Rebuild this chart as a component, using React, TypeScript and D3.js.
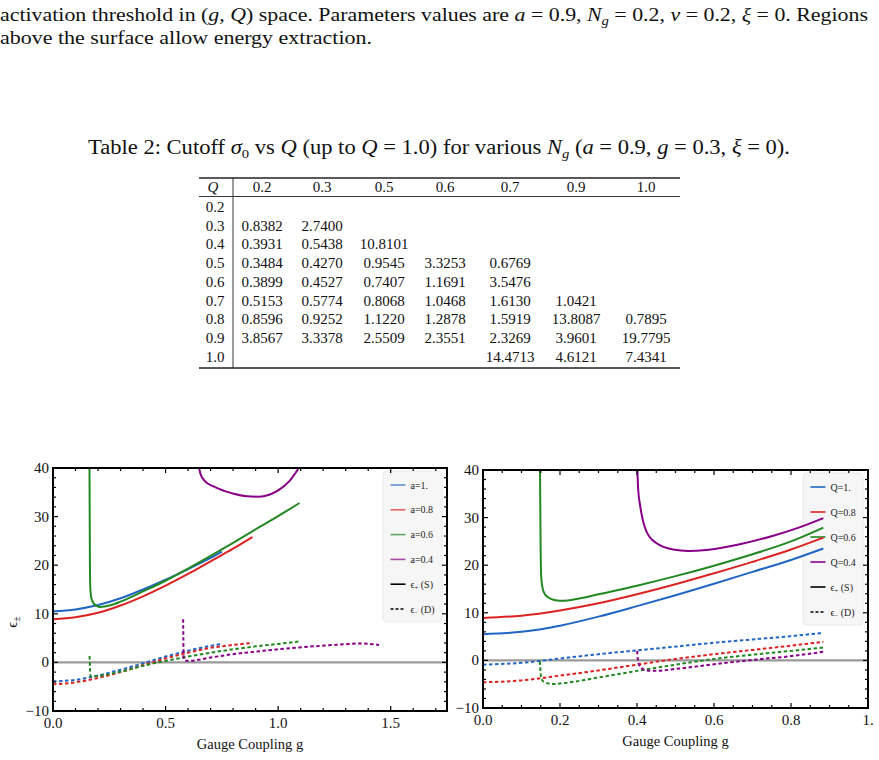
// Paper excerpt: paragraph, cutoff table and two epsilon-vs-g panels, drawn with D3 scales
import * as d3 from 'd3';

type Pt = [number, number];

// ---- table data ----
const tableCols = ['0.2', '0.3', '0.5', '0.6', '0.7', '0.9', '1.0'];
const tableRows = ['0.2', '0.3', '0.4', '0.5', '0.6', '0.7', '0.8', '0.9', '1.0'];
const tableCells: string[][] = [
  ['', '', '', '', '', '', ''],
  ['0.8382', '2.7400', '', '', '', '', ''],
  ['0.3931', '0.5438', '10.8101', '', '', '', ''],
  ['0.3484', '0.4270', '0.9545', '3.3253', '0.6769', '', ''],
  ['0.3899', '0.4527', '0.7407', '1.1691', '3.5476', '', ''],
  ['0.5153', '0.5774', '0.8068', '1.0468', '1.6130', '1.0421', ''],
  ['0.8596', '0.9252', '1.1220', '1.2878', '1.5919', '13.8087', '0.7895'],
  ['3.8567', '3.3378', '2.5509', '2.3551', '2.3269', '3.9601', '19.7795'],
  ['', '', '', '', '14.4713', '4.6121', '7.4341'],
];

// ---- left panel (vary a) : eps+ solid, eps- dashed ----
const leftPlusA10: Pt[] = [[0, 10.5], [0.1, 10.9], [0.2, 11.8], [0.3, 13.2], [0.4, 15.0], [0.5, 17.0], [0.6, 19.2], [0.7, 21.5], [0.75, 22.8]];
const leftPlusA08: Pt[] = [[0, 8.9], [0.1, 9.3], [0.2, 10.2], [0.3, 11.7], [0.4, 13.6], [0.5, 15.8], [0.6, 18.2], [0.7, 20.8], [0.8, 23.4], [0.886, 25.8]];
const leftPlusA06: Pt[] = [[0.162, 41], [0.164, 20], [0.166, 15], [0.17, 13.3], [0.18, 12.2], [0.19, 11.7], [0.2, 11.5], [0.21, 11.4], [0.23, 11.5], [0.26, 11.8], [0.3, 12.5], [0.4, 14.6], [0.5, 16.8], [0.6, 19.3], [0.7, 21.9], [0.8, 24.6], [0.9, 27.4], [1.0, 30.1], [1.095, 32.8]];
const leftPlusA04: Pt[] = [[0.645, 41], [0.655, 38.8], [0.675, 37.3], [0.713, 36.2], [0.76, 35.3], [0.802, 34.7], [0.86, 34.2], [0.914, 34.1], [0.96, 34.5], [1.0, 35.4], [1.05, 37.3], [1.1, 40.6]];

const leftMinusA10: Pt[] = [[0, -3.9], [0.1, -3.6], [0.2, -2.7], [0.3, -1.5], [0.4, -0.2], [0.5, 1.2], [0.6, 2.4], [0.7, 3.4], [0.75, 3.8]];
const leftMinusA08: Pt[] = [[0, -4.5], [0.1, -4.1], [0.2, -3.2], [0.3, -2.0], [0.4, -0.6], [0.5, 0.8], [0.6, 2.0], [0.7, 3.0], [0.8, 3.6], [0.886, 4.0]];
const leftMinusA06: Pt[] = [[0.1625, 1.3], [0.164, -1.0], [0.167, -2.9], [0.2, -2.8], [0.3, -1.9], [0.4, -0.7], [0.5, 0.3], [0.6, 1.2], [0.7, 2.0], [0.8, 2.7], [0.9, 3.3], [1.0, 3.8], [1.09, 4.3]];
const leftMinusA04: Pt[] = [[0.578, 8.9], [0.579, 5], [0.58, 1.2], [0.585, 0.4], [0.6, 0.3], [0.7, 1.0], [0.8, 1.7], [0.9, 2.2], [1.0, 2.7], [1.1, 3.1], [1.2, 3.45], [1.3, 3.75], [1.37, 3.9], [1.448, 3.6]];

// ---- right panel (vary Q) ----
const rightPlusQ10: Pt[] = [[0, 5.5], [0.1, 6.0], [0.2, 7.3], [0.3, 9.2], [0.4, 11.4], [0.5, 13.7], [0.6, 16.1], [0.7, 18.6], [0.8, 21.1], [0.884, 23.5]];
const rightPlusQ08: Pt[] = [[0, 8.9], [0.1, 9.4], [0.2, 10.5], [0.3, 12.0], [0.4, 13.9], [0.5, 16.0], [0.6, 18.3], [0.7, 20.7], [0.8, 23.3], [0.884, 25.8]];
const rightPlusQ06: Pt[] = [[0.148, 41], [0.1495, 25], [0.151, 18], [0.154, 15.5], [0.16, 14], [0.17, 13.2], [0.185, 12.7], [0.2, 12.55], [0.22, 12.6], [0.25, 13.0], [0.3, 13.9], [0.4, 15.7], [0.5, 17.7], [0.6, 19.9], [0.7, 22.3], [0.8, 25.0], [0.884, 27.9]];
const rightPlusQ04: Pt[] = [[0.4005, 41], [0.403, 36], [0.408, 32.6], [0.415, 29.5], [0.425, 27.0], [0.451, 24.6], [0.494, 23.3], [0.533, 23.0], [0.58, 23.2], [0.667, 24.4], [0.754, 26.2], [0.82, 27.9], [0.884, 29.9]];

const rightMinusQ10: Pt[] = [[0, -0.9], [0.1, -0.5], [0.2, 0.4], [0.3, 1.3], [0.4, 2.1], [0.5, 2.9], [0.6, 3.7], [0.7, 4.4], [0.8, 5.1], [0.884, 5.8]];
const rightMinusQ08: Pt[] = [[0, -4.6], [0.1, -4.2], [0.2, -3.2], [0.3, -2.1], [0.4, -0.9], [0.5, 0.3], [0.6, 1.3], [0.7, 2.2], [0.8, 3.1], [0.884, 3.9]];
const rightMinusQ06: Pt[] = [[0.148, -0.2], [0.1495, -2.5], [0.152, -3.9], [0.16, -4.6], [0.183, -4.95], [0.2, -4.85], [0.3, -3.6], [0.4, -2.2], [0.5, -0.9], [0.6, 0.3], [0.7, 1.2], [0.8, 2.0], [0.884, 2.7]];
const rightMinusQ04: Pt[] = [[0.4005, 2.0], [0.402, 0.3], [0.405, -0.8], [0.412, -1.6], [0.425, -2.1], [0.45, -2.2], [0.5, -1.8], [0.6, -0.8], [0.7, 0.1], [0.8, 0.9], [0.884, 1.8]];

const leftLegend = ['a=1.', 'a=0.8', 'a=0.6', 'a=0.4'];
const rightLegend = ['Q=1.', 'Q=0.8', 'Q=0.6', 'Q=0.4'];
const yTicks = [-10, 0, 10, 20, 30, 40];
const leftXTicks = [0, 0.5, 1.0, 1.5];
const leftXLabels = ['0.0', '0.5', '1.0', '1.5'];
const rightXTicks = [0, 0.2, 0.4, 0.6, 0.8, 1.0];
const rightXLabels = ['0.0', '0.2', '0.4', '0.6', '0.8', '1.'];

const COLORS = ['#2166c4', '#dd2222', '#228822', '#880088'];
const SERIF = '"Liberation Serif", "Times New Roman", serif';

interface Box { x0: number; x1: number; y0: number; y1: number }

interface PanelProps {
  id: string;
  box: Box;
  xMax: number;
  xTicks: number[];
  xLabels: string[];
  xMinor: number;
  plus: Pt[][];
  minus: Pt[][];
  legend: string[];
  legendBox: Box;
  legendFade: number;
  yLabel?: boolean;
}

const Panel = ({ id, box, xMax, xTicks, xLabels, xMinor, plus, minus, legend, legendBox, legendFade, yLabel }: PanelProps) => {
  const x = d3.scaleLinear().domain([0, xMax]).range([box.x0, box.x1]);
  const y = d3.scaleLinear().domain([-10, 40]).range([box.y1, box.y0]);
  const line = d3.line<Pt>().x(d => x(d[0])).y(d => y(d[1])).curve(d3.curveMonotoneX);
  const xMinorTicks = d3.range(0, xMax + 1e-9, xMinor);
  const yMinorTicks = d3.range(-10, 40.001, 2);
  const legendStep = (legendBox.y1 - legendBox.y0 - 27) / 5;
  const legendRows = [...legend, 'S', 'D'];

  return (
    <g>
      <defs>
        <clipPath id={id}>
          <rect x={box.x0} y={box.y0} width={box.x1 - box.x0} height={box.y1 - box.y0} />
        </clipPath>
      </defs>

      {/* legend sits under the curves */}
      <rect x={legendBox.x0} y={legendBox.y0} width={legendBox.x1 - legendBox.x0} height={legendBox.y1 - legendBox.y0}
        rx={4} fill="#f6f6f6" stroke="#e4e4e4" strokeWidth={0.8} />
      {legendRows.map((lab, i) => {
        const ly = legendBox.y0 + 14 + i * legendStep;
        const lx = legendBox.x0 + 7.5;
        const isSeries = i < 4;
        return (
          <g key={i}>
            <line x1={lx} x2={lx + 15} y1={ly} y2={ly}
              stroke={isSeries ? COLORS[i] : '#000'} strokeOpacity={isSeries ? legendFade : 1}
              strokeWidth={1.6} strokeDasharray={lab === 'D' ? '3,2' : undefined} />
            <text x={lx + 20} y={ly + 3.5} fontFamily={SERIF} fontSize={10} fill="#222">
              {isSeries ? lab : (
                <>
                  <tspan>ϵ</tspan>
                  <tspan fontSize={6.5} dy={2}>{lab === 'S' ? '+' : '−'}</tspan>
                  <tspan dy={-2}>{lab === 'S' ? ' (S)' : ' (D)'}</tspan>
                </>
              )}
            </text>
          </g>
        );
      })}

      {/* zero line */}
      <line x1={box.x0} x2={box.x1} y1={y(0)} y2={y(0)} stroke="#9a9a9a" strokeWidth={2.4} />

      <g clipPath={`url(#${id})`} fill="none">
        {minus.map((s, i) => (
          <path key={'m' + i} d={line(s) || ''} stroke={COLORS[i]} strokeWidth={2} strokeDasharray="3.5,2.5" />
        ))}
        {plus.map((s, i) => (
          <path key={'p' + i} d={line(s) || ''} stroke={COLORS[i]} strokeWidth={2} />
        ))}
      </g>

      {/* frame ticks, inside on all four sides */}
      {xMinorTicks.map((t, i) => {
        const major = xTicks.some(m => Math.abs(m - t) < 1e-6);
        const len = major ? 5 : 3;
        return (
          <g key={'xt' + i} stroke="#000" strokeWidth={1.2}>
            <line x1={x(t)} x2={x(t)} y1={box.y1} y2={box.y1 - len} />
            <line x1={x(t)} x2={x(t)} y1={box.y0} y2={box.y0 + len} />
          </g>
        );
      })}
      {yMinorTicks.map((t, i) => {
        const major = Math.abs(t % 10) < 1e-6;
        const len = major ? 5 : 3;
        return (
          <g key={'yt' + i} stroke="#000" strokeWidth={1.2}>
            <line x1={box.x0} x2={box.x0 + len} y1={y(t)} y2={y(t)} />
            <line x1={box.x1} x2={box.x1 - len} y1={y(t)} y2={y(t)} />
          </g>
        );
      })}
      <rect x={box.x0} y={box.y0} width={box.x1 - box.x0} height={box.y1 - box.y0} fill="none" stroke="#000" strokeWidth={2} />

      {/* tick labels */}
      {xTicks.map((t, i) => (
        <text key={'xl' + i} x={x(t)} y={box.y1 + 17} textAnchor="middle" fontFamily={SERIF} fontSize={15} fill="#111">{xLabels[i]}</text>
      ))}
      {yTicks.map((t, i) => (
        <text key={'yl' + i} x={box.x0 - 4} y={y(t) + 5} textAnchor="end" fontFamily={SERIF} fontSize={15} fill="#111">
          {t < 0 ? '−' + Math.abs(t) : t}
        </text>
      ))}
      <text x={(box.x0 + box.x1) / 2} y={box.y1 + 38} textAnchor="middle" fontFamily={SERIF} fontSize={14.5} fill="#111">Gauge Coupling g</text>
      {yLabel && (
        <text transform={`translate(17,622) rotate(-90)`} textAnchor="middle" fontFamily={SERIF} fontSize={15} fill="#111">
          <tspan>ϵ</tspan><tspan fontSize={10} dy={3}>±</tspan>
        </text>
      )}
    </g>
  );
};

const Table = () => {
  const colX = [262, 322, 384, 445, 510, 576, 646];
  const rowY = d3.scaleLinear().domain([0, tableRows.length - 1]).range([207, 356.6]);
  const rule = { x0: 199, x1: 680, top: 178, mid: 196.5, bottom: 368 };
  return (
    <g fontFamily={SERIF} fontSize={15} fill="#111">
      <line x1={rule.x0} x2={rule.x1} y1={rule.top} y2={rule.top} stroke="#222" strokeWidth={1.3} />
      <line x1={rule.x0} x2={rule.x1} y1={rule.mid} y2={rule.mid} stroke="#222" strokeWidth={0.9} />
      <line x1={rule.x0} x2={rule.x1} y1={rule.bottom} y2={rule.bottom} stroke="#222" strokeWidth={1.3} />
      <line x1={233} x2={233} y1={rule.top} y2={rule.bottom} stroke="#222" strokeWidth={0.9} />
      <text x={213} y={191.5} textAnchor="middle" fontStyle="italic">Q</text>
      {tableCols.map((c, i) => (
        <text key={'h' + i} x={colX[i]} y={191.5} textAnchor="middle">{c}</text>
      ))}
      {tableRows.map((r, j) => (
        <g key={'r' + j}>
          <text x={215} y={rowY(j) + 5} textAnchor="middle">{r}</text>
          {tableCells[j].map((v, i) => v ? (
            <text key={i} x={colX[i]} y={rowY(j) + 5} textAnchor="middle">{v}</text>
          ) : null)}
        </g>
      ))}
    </g>
  );
};

const App = () => {
  const it = { fontStyle: 'italic' } as const;
  return (
    <svg width={879} height={760} style={{ position: 'absolute', left: 0, top: 0, background: '#fff' }}>
      <g fontFamily={SERIF} fontSize={19.5} fill="#111">
        <text x={0} y={21} textLength={868} lengthAdjust="spacingAndGlyphs">
          <tspan>activation threshold in (</tspan><tspan style={it}>g, Q</tspan>
          <tspan>) space. Parameters values are </tspan><tspan style={it}>a</tspan>
          <tspan> = 0.9, </tspan><tspan style={it}>N</tspan><tspan fontSize={13} dy={4} style={it}>g</tspan>
          <tspan dy={-4}> = 0.2, </tspan><tspan style={it}>v</tspan><tspan> = 0.2, </tspan>
          <tspan style={it}>ξ</tspan><tspan> = 0. Regions</tspan>
        </text>
        <text x={0} y={44} textLength={372} lengthAdjust="spacingAndGlyphs">above the surface allow energy extraction.</text>
        <text x={88} y={154} fontSize={20} textLength={702} lengthAdjust="spacingAndGlyphs">
          <tspan>Table 2: Cutoff </tspan><tspan style={it}>σ</tspan><tspan fontSize={13} dy={4}>0</tspan>
          <tspan dy={-4}> vs </tspan><tspan style={it}>Q</tspan><tspan> (up to </tspan><tspan style={it}>Q</tspan>
          <tspan> = 1.0) for various </tspan><tspan style={it}>N</tspan><tspan fontSize={13} dy={4} style={it}>g</tspan>
          <tspan dy={-4}> (</tspan><tspan style={it}>a</tspan><tspan> = 0.9, </tspan><tspan style={it}>g</tspan>
          <tspan> = 0.3, </tspan><tspan style={it}>ξ</tspan><tspan> = 0).</tspan>
        </text>
      </g>

      <Table />

      <Panel id="clipL" box={{ x0: 53, x1: 447, y0: 468, y1: 711 }} xMax={1.75}
        xTicks={leftXTicks} xLabels={leftXLabels} xMinor={0.1}
        plus={[leftPlusA10, leftPlusA08, leftPlusA06, leftPlusA04]}
        minus={[leftMinusA10, leftMinusA08, leftMinusA06, leftMinusA04]}
        legend={leftLegend} legendBox={{ x0: 383, x1: 442, y0: 471, y1: 622 }} legendFade={0.7} yLabel />

      <Panel id="clipR" box={{ x0: 483, x1: 868, y0: 470, y1: 708 }} xMax={1.0}
        xTicks={rightXTicks} xLabels={rightXLabels} xMinor={0.05}
        plus={[rightPlusQ10, rightPlusQ08, rightPlusQ06, rightPlusQ04]}
        minus={[rightMinusQ10, rightMinusQ08, rightMinusQ06, rightMinusQ04]}
        legend={rightLegend} legendBox={{ x0: 803, x1: 863, y0: 473, y1: 625 }} legendFade={1} />
    </svg>
  );
};

export default App;
